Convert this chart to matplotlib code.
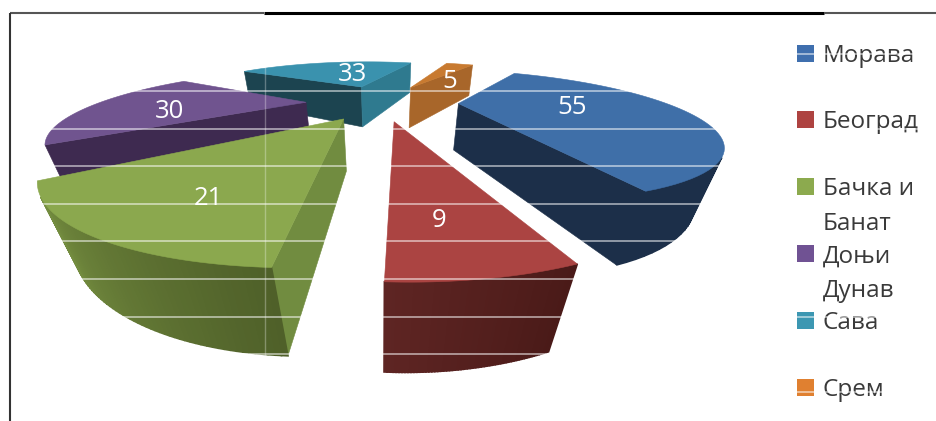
import numpy as np
import matplotlib
matplotlib.use("Agg")
import matplotlib.pyplot as plt
from matplotlib.colors import to_rgb
from matplotlib.patches import Polygon, Rectangle

# Regions and their counts
categories = ["Морава", "Београд", "Бачка и\nБанат", "Доњи\nДунав", "Сава", "Срем"]
values = [55, 9, 21, 30, 33, 5]

# Colours of each slice
top_colors = ["#3F6FA8", "#AB4442", "#8BA84E", "#70548F", "#3A92AE", "#C87A30"]
start_face_colors = ["#1C2F49", "#5A2120", "#718C40", "#3E2A50", "#1C4450", "#A8662A"]
end_face_colors = ["#1C2F49", "#5A2120", "#718C40", "#3E2A50", "#2F7A8F", "#A8662A"]
rim_start_colors = ["#1C2F49", "#4A1A18", "#4F6029", "#3E2A50", "#1C4450", "#A8662A"]
rim_end_colors = ["#1C2F49", "#5E2523", "#7A9443", "#3E2A50", "#1C4450", "#A8662A"]
swatch_colors = ["#3F6FAE", "#AE4341", "#8CAA4E", "#705293", "#3C97B2", "#E08030"]

# Back-to-front painting order of the slices
draw_order = [4, 5, 3, 0, 2, 1]

# Pie geometry and camera
START_ANGLE = 32.0
explode = [0.37, 0.355, 0.35, 0.37, 0.37, 0.37]
DEPTH = 2.11
X0, FOCAL_X, FOCAL_Y = 382.0, 430.0, 214.0
THICK_W, BOTTOM_Y0, BOTTOM_FOCAL_Y = 0.14, -2.7, 337.0

# Label placement on each slice: radius, pixel shift in x and y
label_places = [(0.50, 5, 1), (0.78, -12, 3), (0.70, 2, 17), (0.65, 0, 8), (0.535, 12, 2), (0.60, 6, 10)]


def project(px, py):
    """Top-plane and bottom-plane screen positions of pie-plane points."""
    z = DEPTH + py
    w = z + THICK_W
    top = np.column_stack([X0 + FOCAL_X * px / z, FOCAL_Y / z])
    bottom = np.column_stack([X0 + FOCAL_X * px / w, BOTTOM_Y0 + BOTTOM_FOCAL_Y / w])
    return top, bottom


def signed_area(pts):
    x, y = pts[:, 0], pts[:, 1]
    return np.sum(x * np.roll(y, -1) - np.roll(x, -1) * y)


def add_face(ax, pts, color, lw=0.4):
    if signed_area(pts) < 0:
        ax.add_patch(Polygon(pts, closed=True, facecolor=color, edgecolor=color, linewidth=lw))


fig = plt.figure(figsize=(9.36, 4.21), dpi=100)
ax = fig.add_axes([0, 0, 1, 1])
ax.set_xlim(0, 936)
ax.set_ylim(421, 0)
ax.axis("off")
plt.rcParams["font.family"] = ["Open Sans", "DejaVu Sans"]

total = sum(values)
spans = [360.0 * v / total for v in values]
starts = START_ANGLE + np.concatenate([[0], np.cumsum(spans)[:-1]])

for i in draw_order:
    theta = np.radians(np.linspace(starts[i], starts[i] + spans[i], 60))
    mid = np.radians(starts[i] + spans[i] / 2)
    cx, cy = explode[i] * np.sin(mid), explode[i] * np.cos(mid)
    rim_top, rim_bot = project(cx + np.sin(theta), cy + np.cos(theta))
    apex_top, apex_bot = project(np.array([cx]), np.array([cy]))

    add_face(ax, np.vstack([apex_top, rim_top[0], rim_bot[0], apex_bot]), start_face_colors[i])
    add_face(ax, np.vstack([rim_top[-1], apex_top, apex_bot, rim_bot[-1]]), end_face_colors[i])
    c0, c1 = np.array(to_rgb(rim_start_colors[i])), np.array(to_rgb(rim_end_colors[i]))
    for k in range(len(theta) - 1):
        f = k / (len(theta) - 2)
        quad = np.vstack([rim_top[k], rim_top[k + 1], rim_bot[k + 1], rim_bot[k]])
        add_face(ax, quad, tuple(c0 + (c1 - c0) * f), lw=1.2)
    ax.add_patch(Polygon(np.vstack([apex_top, rim_top]), closed=True,
                         facecolor=top_colors[i], edgecolor=top_colors[i], linewidth=0.4))

# Value labels
for i, v in enumerate(values):
    r, dx, dy = label_places[i]
    mid = np.radians(starts[i] + spans[i] / 2)
    lx = (explode[i] + r) * np.sin(mid)
    ly = (explode[i] + r) * np.cos(mid)
    pos, _ = project(np.array([lx]), np.array([ly]))
    ax.text(pos[0, 0] + dx, pos[0, 1] + dy, str(v), color="white", fontsize=18.5,
            ha="center", va="center", zorder=5)

# Legend column
for i, name in enumerate(categories):
    yc = 53 + 66.9 * i
    ax.add_patch(Rectangle((797, yc - 8.5), 16.5, 17, facecolor=swatch_colors[i], edgecolor="none", zorder=4))
    lines = name.split("\n")
    ax.text(823, yc + 8.5, lines[0], color="#3A3A3A", fontsize=17.5, va="baseline", ha="left", zorder=4)
    if len(lines) > 1:
        ax.text(823, yc + 43.5, lines[1], color="#3A3A3A", fontsize=17.5, va="baseline", ha="left", zorder=4)

# Pale rule lines running over the whole sheet
for y in np.arange(53.5, 400, 37.6):
    ax.plot([10, 936], [y, y], color="white", lw=1.1, alpha=0.65, zorder=6)
ax.plot([265, 265], [14, 400], color="white", lw=1.0, alpha=0.3, zorder=6)

# Frame: top and left edges
ax.plot([9.5, 264], [13, 13], color="#555555", lw=1.5, zorder=7, solid_capstyle="butt")
ax.plot([264, 824], [13, 13], color="black", lw=2.2, zorder=7, solid_capstyle="butt")
ax.plot([824, 936], [13, 13], color="#555555", lw=1.5, zorder=7, solid_capstyle="butt")
ax.plot([9.5, 9.5], [12.5, 421], color="#333333", lw=1.5, zorder=7, solid_capstyle="butt")

fig.savefig("out.png", dpi=100)
